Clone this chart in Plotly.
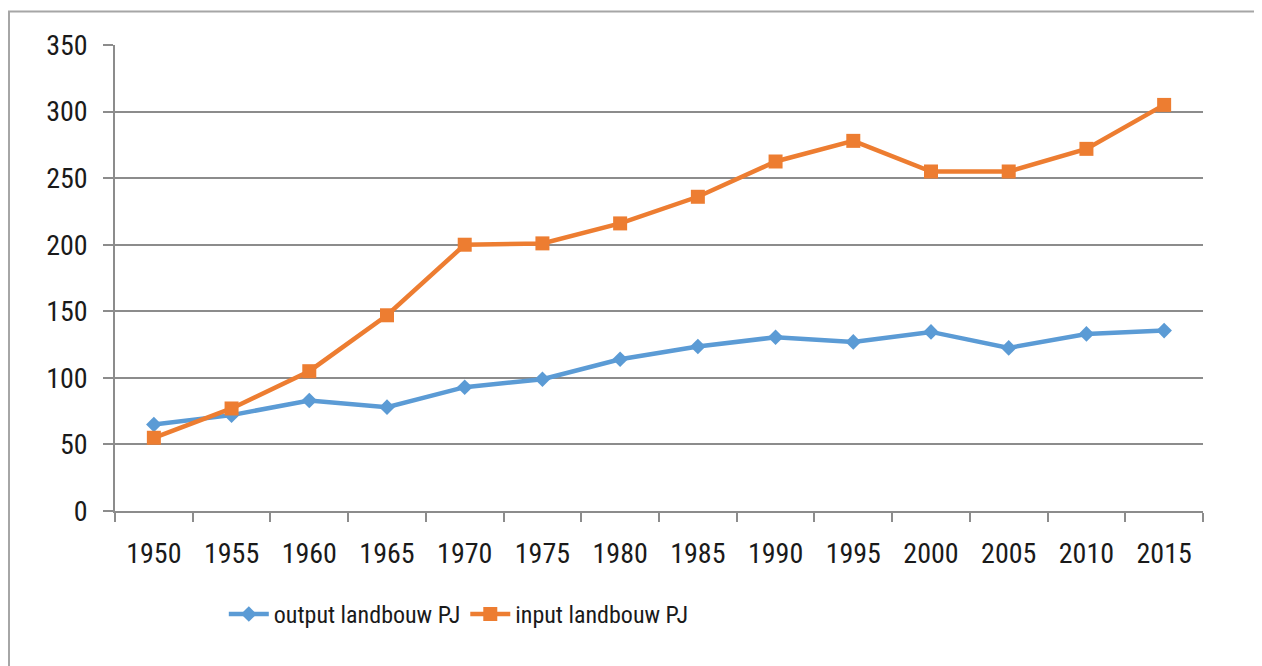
import plotly.graph_objects as go

years = ["1950", "1955", "1960", "1965", "1970", "1975", "1980", "1985",
         "1990", "1995", "2000", "2005", "2010", "2015"]
output_pj = [65, 72, 83, 78, 93, 99, 114, 123.5, 130.5, 127, 134.5, 122.5, 133, 135.5]
input_pj = [55, 77, 105, 147, 200, 201, 216, 236, 262.5, 278, 255, 255, 272, 305]
y_ticks = [0, 50, 100, 150, 200, 250, 300, 350]

FONT = "Liberation Sans Narrow, Arial Narrow, Roboto Condensed, sans-serif"
GRID = "#8c8c8c"

fig = go.Figure()
fig.add_trace(go.Scatter(
    x=years, y=output_pj, name="output landbouw PJ", mode="lines+markers",
    line=dict(color="#5B9BD5", width=4.5),
    marker=dict(symbol="diamond", size=12, color="#5B9BD5"),
))
fig.add_trace(go.Scatter(
    x=years, y=input_pj, name="input landbouw PJ", mode="lines+markers",
    line=dict(color="#ED7D31", width=4.5),
    marker=dict(symbol="square", size=14, color="#ED7D31"),
))

fig.update_layout(
    width=1262, height=666,
    margin=dict(l=107, r=67, t=36.5, b=162.5),
    paper_bgcolor="white", plot_bgcolor="white",
    font=dict(family=FONT, size=28, color="#1a1a1a"),
    showlegend=True,
    legend=dict(orientation="h", x=0.1, xanchor="left", y=-0.222, yanchor="middle",
                font=dict(size=24), itemwidth=40, tracegroupgap=0),
    xaxis=dict(
        type="category", range=[-0.5, len(years) - 0.5], tickson="boundaries",
        ticks="outside", ticklen=9,
        tickcolor=GRID, tickwidth=1.5, showline=True, linecolor=GRID, linewidth=1.5,
        showgrid=False, ticklabelstandoff=17, zeroline=False,
    ),
    yaxis=dict(
        range=[0, 350], tickvals=y_ticks, ticks="outside", ticklen=10,
        tickcolor=GRID, tickwidth=1.5, showline=True, linecolor=GRID, linewidth=1.5,
        showgrid=True, gridcolor=GRID, gridwidth=1.5, zeroline=False,
        ticklabelstandoff=10,
    ),
    shapes=[
        dict(type="rect", xref="paper", yref="paper",
             x0=-106 / 1088, x1=1.2, y0=-0.5, y1=(511.5 - 11) / 467,
             line=dict(color="#a6a6a6", width=2), fillcolor="rgba(0,0,0,0)", layer="below"),
    ],
)

fig.write_html("out.html")
